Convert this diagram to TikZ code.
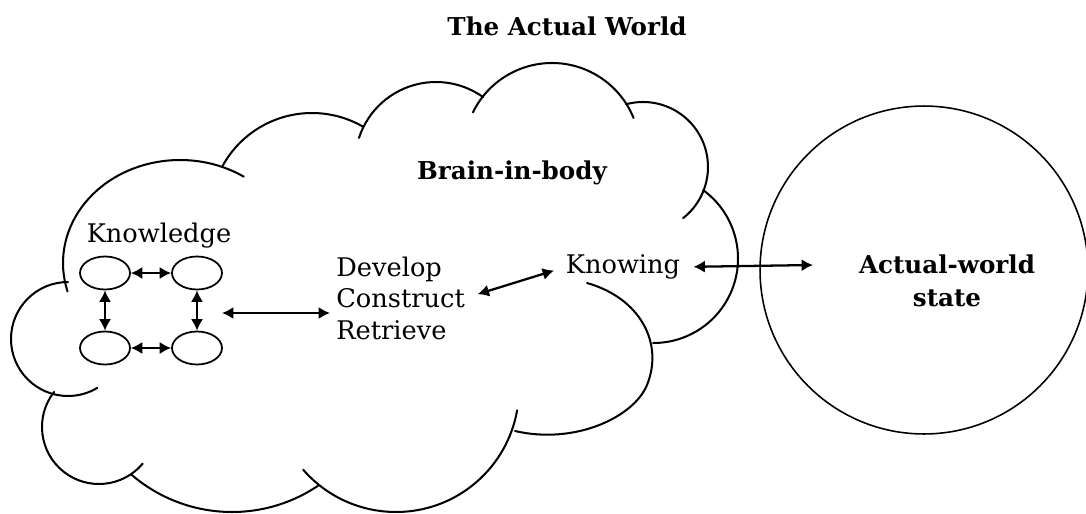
\documentclass[tikz,border=0pt]{standalone}
\usepackage{fontspec}
\setmainfont{DejaVu Serif}
\usetikzlibrary{arrows.meta,shapes.geometric}
\begin{document}
\begin{tikzpicture}[x=0.02cm,y=-0.02cm,
  cloudline/.style={line width=1.15pt, line cap=round},
  kell/.style={draw, ellipse, line width=1pt, inner sep=0pt, minimum width=1cm, minimum height=0.66cm},
  dbl/.style={{Latex[length=6.5pt,width=7pt]}-{Latex[length=6.5pt,width=7pt]}, line width=1.3pt},
  txt/.style={inner sep=0pt, font=\fontsize{14.6}{17.9}\selectfont},
  btxt/.style={inner sep=0pt, font=\fontsize{14}{18.7}\selectfont\bfseries}]
\useasboundingbox (0,0) rectangle (1086,514);
% cloud lobes
\draw[cloudline] (180,263) ++(-57:117 and 103) arc[start angle=-57, end angle=-196, x radius=117, y radius=103];
\draw[cloudline] (68,339) ++(-90:57) arc[start angle=-90, end angle=-301, radius=57];
\draw[cloudline] (99,427) ++(218:57) arc[start angle=218, end angle=40, radius=57];
\draw[cloudline] (232,358) ++(131:154) arc[start angle=131, end angle=56, radius=154];
\draw[cloudline] (396,389) ++(139:123) arc[start angle=139, end angle=10, radius=123];
\draw[cloudline] (587,283) .. controls (640,298) and (664,343) .. (647,385) .. controls (634,417) and (575,445) .. (515,431);
\draw[cloudline] (653.5,258.5) ++(-54:84.5) arc[start angle=-54, end angle=90.3, radius=84.5];
\draw[cloudline] (643,167) ++(-105:65) arc[start angle=-105, end angle=52, radius=65];
\draw[cloudline] (552,151) ++(-154:88) arc[start angle=-154, end angle=-22, radius=88];
\draw[cloudline] (436,163) ++(-162:81) arc[start angle=-162, end angle=-54.5, radius=81];
\draw[cloudline] (312,215) ++(-151:102) arc[start angle=-151, end angle=-60, radius=102];
% world circle
\node[draw, circle, line width=0.9pt, minimum size=6.56cm, inner sep=0pt] (world) at (924,270) {};
% texts
\node[btxt] (title) at (567,26) {The Actual World};
\node[btxt] (brain) at (512,173) {Brain-in-body};
\node[txt] (knowledge) at (159,236) {Knowledge};
\node[txt, align=left, anchor=west] (dcr) at (336,298) {Develop\\Construct\\Retrieve};
\node[txt] (knowing) at (623,267) {Knowing};
\node[btxt, align=center] (state) at (947,281) {Actual-world\\state};
% knowledge nodes
\node[kell] (e1) at (105,273) {};
\node[kell] (e2) at (197,273) {};
\node[kell] (e3) at (105,348) {};
\node[kell] (e4) at (197,348) {};
\coordinate (kg) at (222,313);
\coordinate (wa) at (813,265);
% connectors
\draw[dbl] (e1) -- (e2);
\draw[dbl] (e3) -- (e4);
\draw[dbl] (e1) -- (e3);
\draw[dbl] (e2) -- (e4);
\draw[dbl, shorten >=6*0.02cm] (kg) -- (kg -| dcr.west);
\draw[dbl, shorten <=13*0.02cm, shorten >=12*0.02cm] (dcr.east) -- (knowing.west);
\draw[dbl, shorten <=13*0.02cm] (knowing.east) -- (wa);
\end{tikzpicture}
\end{document}
